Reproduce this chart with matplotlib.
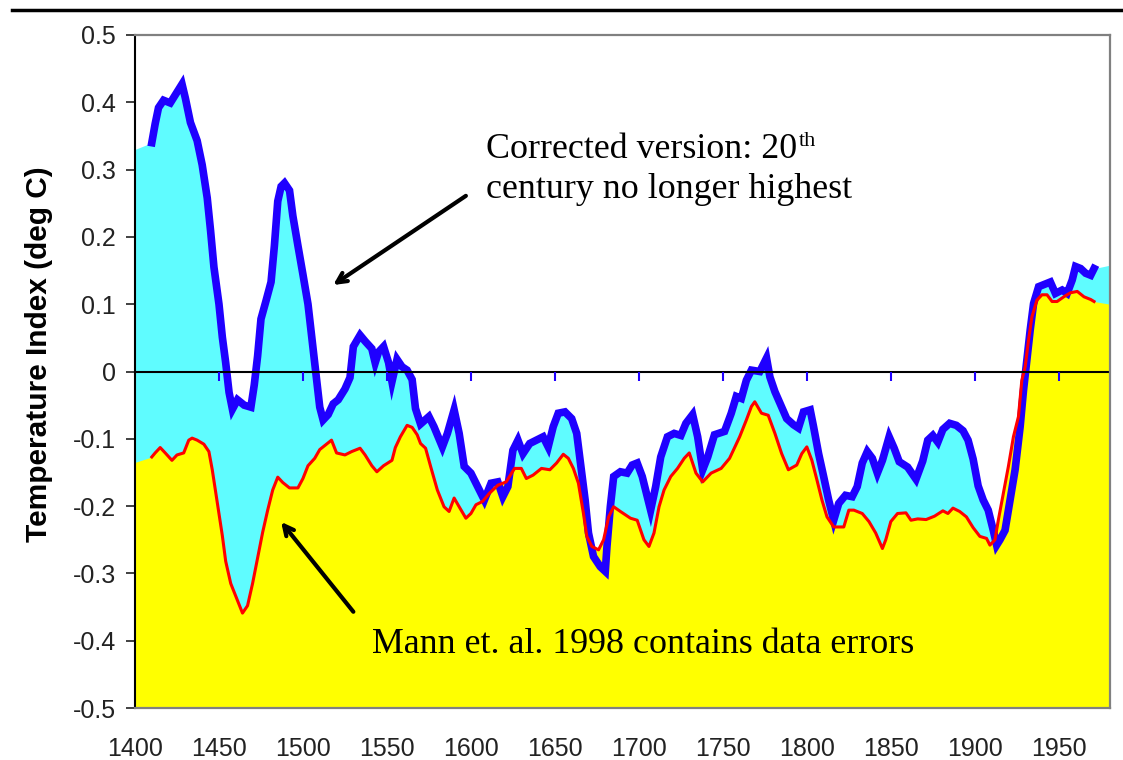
import numpy as np
import matplotlib
matplotlib.use('Agg')
from matplotlib import pyplot as plt
from matplotlib.lines import Line2D

# corrected reconstruction (blue)
blue_years = [1410, 1412, 1414, 1417, 1421, 1424, 1428, 1430, 1433, 1437, 1440, 1443, 1445, 1447,
              1450, 1452, 1454, 1456, 1458, 1461, 1465, 1469, 1471, 1473, 1475, 1478, 1481, 1483,
              1485, 1487, 1489, 1492, 1494, 1497, 1500, 1503, 1506, 1508, 1510, 1512, 1515, 1518,
              1521, 1525, 1528, 1530, 1534, 1537, 1541, 1543, 1545, 1548, 1551, 1553, 1556, 1559,
              1562, 1565, 1567, 1570, 1575, 1578, 1583, 1586, 1590, 1593, 1596, 1600, 1604, 1608,
              1612, 1616, 1619, 1622, 1625, 1628, 1631, 1635, 1639, 1643, 1646, 1649, 1652, 1656,
              1660, 1663, 1665, 1668, 1670, 1673, 1677, 1680, 1681, 1683, 1685, 1689, 1693, 1696,
              1699, 1702, 1705, 1707, 1710, 1713, 1717, 1721, 1725, 1728, 1732, 1735, 1738, 1741,
              1745, 1751, 1755, 1758, 1761, 1764, 1767, 1772, 1776, 1778, 1781, 1784, 1788, 1792,
              1795, 1798, 1802, 1804, 1807, 1810, 1813, 1816, 1819, 1823, 1827, 1830, 1833, 1836,
              1839, 1842, 1845, 1849, 1852, 1855, 1860, 1865, 1869, 1872, 1875, 1878, 1881, 1885,
              1889, 1893, 1896, 1899, 1902, 1905, 1908, 1911, 1913, 1915, 1918, 1921, 1924, 1927,
              1929, 1931, 1933, 1935, 1938, 1941, 1945, 1948, 1952, 1955, 1958, 1960, 1963, 1966,
              1969, 1971]
blue_vals = [0.340, 0.368, 0.392, 0.403, 0.399, 0.411, 0.427, 0.406, 0.370, 0.343, 0.307, 0.258,
             0.209, 0.155, 0.100, 0.051, 0.013, -0.031, -0.056, -0.042, -0.050, -0.053, -0.020,
             0.023, 0.078, 0.105, 0.133, 0.187, 0.253, 0.275, 0.280, 0.269, 0.231, 0.187, 0.144,
             0.100, 0.034, -0.009, -0.053, -0.072, -0.064, -0.048, -0.042, -0.026, -0.009, 0.037,
             0.054, 0.045, 0.034, 0.013, 0.029, 0.037, 0.013, -0.015, 0.018, 0.007, 0.002, -0.012,
             -0.055, -0.078, -0.067, -0.082, -0.112, -0.092, -0.057, -0.092, -0.141, -0.151,
             -0.171, -0.191, -0.166, -0.164, -0.186, -0.171, -0.117, -0.102, -0.122, -0.107,
             -0.102, -0.097, -0.112, -0.082, -0.062, -0.060, -0.070, -0.092, -0.132, -0.191,
             -0.240, -0.275, -0.290, -0.297, -0.260, -0.201, -0.156, -0.149, -0.151, -0.139,
             -0.136, -0.156, -0.186, -0.206, -0.171, -0.127, -0.097, -0.092, -0.095, -0.077,
             -0.064, -0.097, -0.146, -0.127, -0.094, -0.089, -0.062, -0.037, -0.040, -0.013,
             0.002, 0.000, 0.020, -0.008, -0.030, -0.047, -0.070, -0.079, -0.084, -0.060, -0.057,
             -0.082, -0.122, -0.156, -0.191, -0.221, -0.196, -0.184, -0.186, -0.171, -0.136,
             -0.119, -0.129, -0.151, -0.132, -0.097, -0.114, -0.134, -0.142, -0.160, -0.133,
             -0.102, -0.095, -0.105, -0.086, -0.077, -0.080, -0.088, -0.102, -0.130, -0.170,
             -0.191, -0.206, -0.236, -0.258, -0.250, -0.236, -0.191, -0.146, -0.082, -0.028,
             0.017, 0.062, 0.101, 0.126, 0.129, 0.133, 0.116, 0.121, 0.116, 0.136, 0.156, 0.153,
             0.146, 0.143, 0.153]

# Mann et al. 1998 (red)
red_years = [1410, 1412, 1415, 1418, 1422, 1425, 1429, 1432, 1434, 1437, 1441, 1444, 1446, 1448,
             1450, 1452, 1454, 1457, 1460, 1464, 1467, 1470, 1473, 1476, 1479, 1482, 1485, 1488,
             1492, 1497, 1500, 1503, 1507, 1510, 1513, 1517, 1520, 1525, 1529, 1534, 1537, 1541,
             1544, 1548, 1553, 1555, 1558, 1562, 1565, 1568, 1570, 1573, 1576, 1580, 1584, 1587,
             1590, 1593, 1597, 1600, 1603, 1607, 1611, 1616, 1621, 1626, 1630, 1633, 1637, 1642,
             1647, 1651, 1655, 1658, 1661, 1664, 1667, 1669, 1672, 1676, 1679, 1682, 1685, 1689,
             1695, 1699, 1703, 1706, 1709, 1712, 1715, 1719, 1723, 1727, 1730, 1734, 1738, 1743,
             1749, 1754, 1760, 1764, 1767, 1769, 1773, 1777, 1781, 1785, 1789, 1794, 1797, 1800,
             1803, 1806, 1809, 1812, 1816, 1822, 1825, 1828, 1833, 1837, 1841, 1845, 1847, 1850,
             1854, 1859, 1862, 1866, 1871, 1876, 1881, 1884, 1887, 1891, 1895, 1899, 1903, 1907,
             1909, 1912, 1914, 1917, 1920, 1923, 1926, 1928, 1930, 1932, 1934, 1937, 1940, 1943,
             1946, 1949, 1953, 1957, 1961, 1965, 1969, 1971]
red_vals = [-0.127, -0.121, -0.113, -0.121, -0.132, -0.124, -0.121, -0.102, -0.099, -0.102,
            -0.108, -0.119, -0.146, -0.179, -0.211, -0.244, -0.282, -0.315, -0.334, -0.359,
            -0.348, -0.315, -0.277, -0.239, -0.206, -0.176, -0.157, -0.165, -0.173, -0.173,
            -0.159, -0.140, -0.129, -0.116, -0.110, -0.102, -0.121, -0.124, -0.119, -0.114,
            -0.124, -0.140, -0.149, -0.140, -0.132, -0.113, -0.097, -0.080, -0.083, -0.094,
            -0.107, -0.114, -0.141, -0.176, -0.201, -0.208, -0.188, -0.201, -0.218, -0.211,
            -0.198, -0.193, -0.181, -0.169, -0.164, -0.144, -0.144, -0.159, -0.154, -0.144,
            -0.146, -0.136, -0.123, -0.129, -0.144, -0.166, -0.211, -0.245, -0.260, -0.265,
            -0.250, -0.216, -0.201, -0.208, -0.218, -0.221, -0.250, -0.260, -0.240, -0.201,
            -0.176, -0.156, -0.144, -0.129, -0.121, -0.151, -0.164, -0.151, -0.144, -0.129,
            -0.097, -0.072, -0.052, -0.045, -0.062, -0.065, -0.092, -0.122, -0.146, -0.139,
            -0.122, -0.112, -0.132, -0.161, -0.191, -0.216, -0.231, -0.231, -0.206, -0.206,
            -0.211, -0.223, -0.240, -0.263, -0.250, -0.223, -0.211, -0.210, -0.221, -0.219,
            -0.220, -0.215, -0.207, -0.211, -0.203, -0.208, -0.216, -0.232, -0.245, -0.248,
            -0.258, -0.250, -0.221, -0.181, -0.141, -0.097, -0.067, -0.013, 0.007, 0.047,
            0.081, 0.106, 0.114, 0.114, 0.104, 0.104, 0.111, 0.117, 0.119, 0.111, 0.107, 0.104]

# the filled areas run on to the edges of the plot
x_start, x_end = 1400, 1980.5
cyan_edges = (0.33, 0.158)
yellow_edges = (-0.135, 0.10)

y_ticks = [0.5, 0.4, 0.3, 0.2, 0.1, 0, -0.1, -0.2, -0.3, -0.4, -0.5]
y_labels = ['0.5', '0.4', '0.3', '0.2', '0.1', '0', '-0.1', '-0.2', '-0.3', '-0.4', '-0.5']
x_ticks = [1400, 1450, 1500, 1550, 1600, 1650, 1700, 1750, 1800, 1850, 1900, 1950]
x_labels = [str(t) for t in x_ticks]

BLUE = '#1f00ff'
CYAN = '#5ffcff'
YELLOW = '#ffff00'
RED = '#ff0000'
serif = ['Liberation Serif', 'DejaVu Serif']
sans = ['Liberation Sans', 'DejaVu Sans']

fig = plt.figure(figsize=(11.23, 7.6), dpi=100)
ax = fig.add_axes([135 / 1123, 52 / 760, 975 / 1123, 673 / 760])

cx = [x_start] + blue_years + [x_end]
cy = [cyan_edges[0]] + blue_vals + [cyan_edges[1]]
yx = [x_start] + red_years + [x_end]
yy = [yellow_edges[0]] + red_vals + [yellow_edges[1]]
ax.fill_between(cx, cy, -0.5, color=CYAN, lw=0, zorder=1)
ax.fill_between(yx, yy, -0.5, color=YELLOW, lw=0, zorder=2)
ax.plot(blue_years, blue_vals, color=BLUE, lw=5.5, solid_joinstyle='miter', zorder=3)
ax.plot(red_years, red_vals, color=RED, lw=2.2, zorder=4)
ax.axhline(0, color='black', lw=1.5, zorder=5)
# small category ticks hanging under the zero line
ax.vlines(x_ticks[1:], -0.014, 0, colors=BLUE, lw=1.5, zorder=5)

ax.set_xlim(x_start, x_end)
ax.set_ylim(-0.5, 0.5)
ax.set_yticks(y_ticks)
ax.set_yticklabels(y_labels, family=sans, fontsize=18, color='#222222')
ax.set_xticks(x_ticks)
ax.set_xticklabels(x_labels, family=sans, fontsize=18, color='#222222')
ax.tick_params(axis='y', direction='out', length=6.5, width=1.3, color='#333333', pad=7)
ax.tick_params(axis='x', length=0, pad=21)

for s in ['top', 'right', 'bottom']:
    ax.spines[s].set_color('#808080')
    ax.spines[s].set_linewidth(1.6)
ax.spines['left'].set_color('black')
ax.spines['left'].set_linewidth(1.5)
for s in ax.spines.values():
    s.set_zorder(6)

ax.set_ylabel('Temperature Index (deg C)', family=sans, fontsize=21.5, fontweight='bold')
ax.yaxis.set_label_coords(-0.084, 0.526)

# annotations
t1 = ax.text(1609, 0.317, 'Corrected version: 20', family=serif, fontsize=25.8, va='baseline', zorder=7)
ax.annotate('th', xy=(1, 1), xycoords=t1, xytext=(1, 1), textcoords='offset points',
            family=serif, fontsize=16, va='top', ha='left', zorder=7)
ax.text(1609, 0.258, 'century no longer highest', family=serif, fontsize=25.8, va='baseline', zorder=7)
ax.text(1541, -0.418, 'Mann et. al. 1998 contains data errors', family=serif, fontsize=25.8,
        va='baseline', zorder=7)

arrow = dict(arrowstyle='->,head_length=0.7,head_width=0.35', lw=3, color='black',
             shrinkA=0, shrinkB=0)
ax.annotate('', xy=(1518, 0.1285), xytext=(1597, 0.261), arrowprops=arrow, zorder=7)
ax.annotate('', xy=(1487, -0.2235), xytext=(1530, -0.357), arrowprops=arrow, zorder=7)

# dark rule across the top of the page
fig.add_artist(Line2D([12 / 1123, 1], [1 - 10 / 760, 1 - 10 / 760], color='black', lw=2.5))

fig.savefig('out.png', dpi=100)
